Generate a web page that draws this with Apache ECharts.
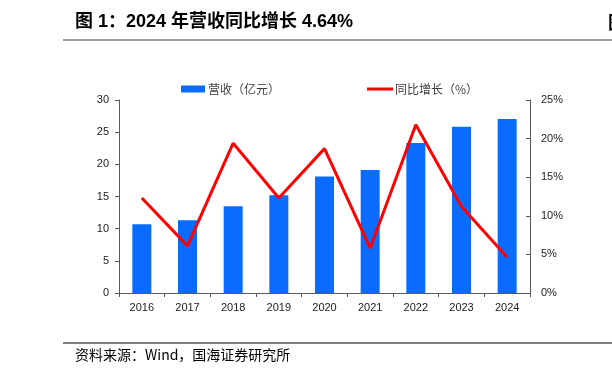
<!DOCTYPE html>
<html><head><meta charset="utf-8">
<script src="https://cdn.jsdelivr.net/npm/echarts@6/dist/echarts.min.js"></script>
<style>html,body{margin:0;padding:0;background:#fff;}#c{width:612px;height:379px;}</style>
</head><body><div id="c"></div>
<script>
const years = ['2016','2017','2018','2019','2020','2021','2022','2023','2024'];
const revenue = [10.7, 11.3, 13.5, 15.2, 18.1, 19.1, 23.3, 25.85, 27.05];
const growth = [12.3, 6.1, 19.4, 12.3, 18.7, 5.8, 21.8, 11.2, 4.64];
const leftTicks = [0, 5, 10, 15, 20, 25, 30];
const rightTicks = [0, 5, 10, 15, 20, 25];

const chart = echarts.init(document.getElementById('c'));
const font = '"Noto Sans CJK SC", "Liberation Sans", sans-serif';
const titleFont = '"Liberation Sans", "Noto Sans CJK SC", sans-serif';
const axisColor = '#595959';
chart.setOption({
  animation: false,
  textStyle: { fontFamily: font },
  graphic: [
    { type: 'text', left: 75, top: 13, style: { text: '图 1：2024 年营收同比增长 4.64%', font: 'bold 18px ' + titleFont, fill: '#000' } },
    { type: 'line', shape: { x1: 63, y1: 40, x2: 612, y2: 40 }, style: { stroke: '#7f7f7f', lineWidth: 1.5 } },
    { type: 'text', left: 608, top: 13, style: { text: '图', font: 'bold 18px ' + font, fill: '#000' } },
    { type: 'line', shape: { x1: 63, y1: 343, x2: 612, y2: 343 }, style: { stroke: '#000', lineWidth: 1 } },
    { type: 'text', left: 75, top: 348, style: { text: '资料来源：Wind，国海证券研究所', font: '14px ' + font, fill: '#000' } }
  ],
  legend: [
    {
      top: 78, left: 176, itemWidth: 24, itemHeight: 7, itemGap: 4,
      textStyle: { fontSize: 12, color: '#404040', fontFamily: font, padding: [0, 0, 0, -2] },
      data: [{ name: '营收（亿元）', icon: 'rect' }]
    },
    {
      top: 78, left: 362, itemWidth: 26, itemHeight: 3, itemGap: 4,
      textStyle: { fontSize: 12, color: '#404040', fontFamily: font, padding: [0, 0, 0, -3] },
      data: [{ name: '同比增长（%）', icon: 'rect' }]
    }
  ],
  grid: { left: 119, right: 82, top: 100, bottom: 86 },
  xAxis: {
    type: 'category', data: years,
    axisLine: { lineStyle: { color: axisColor } },
    axisTick: { show: true, length: 4, lineStyle: { color: axisColor } },
    axisLabel: { color: '#222', fontSize: 11, margin: 9, fontFamily: '"Liberation Sans", sans-serif' }
  },
  yAxis: [
    {
      type: 'value', min: 0, max: 30, interval: 5,
      axisLine: { show: true, lineStyle: { color: axisColor } },
      axisTick: { show: true, length: 4, lineStyle: { color: axisColor } },
      splitLine: { show: false },
      axisLabel: { color: '#222', fontSize: 11, margin: 10, fontFamily: '"Liberation Sans", sans-serif' }
    },
    {
      type: 'value', min: 0, max: 25, interval: 5, position: 'right',
      axisLine: { show: true, lineStyle: { color: axisColor } },
      axisTick: { show: true, inside: true, length: 4, lineStyle: { color: axisColor } },
      splitLine: { show: false },
      axisLabel: { color: '#222', fontSize: 11, margin: 11, formatter: '{value}%', fontFamily: '"Liberation Sans", sans-serif' }
    }
  ],
  series: [
    { name: '营收（亿元）', type: 'bar', data: revenue, barWidth: 19, itemStyle: { color: '#0A6CFF' } },
    { name: '同比增长（%）', type: 'line', yAxisIndex: 1, data: growth, symbol: 'none',
      lineStyle: { color: '#FF0000', width: 3 }, itemStyle: { color: '#FF0000' } }
  ]
});
</script></body></html>
